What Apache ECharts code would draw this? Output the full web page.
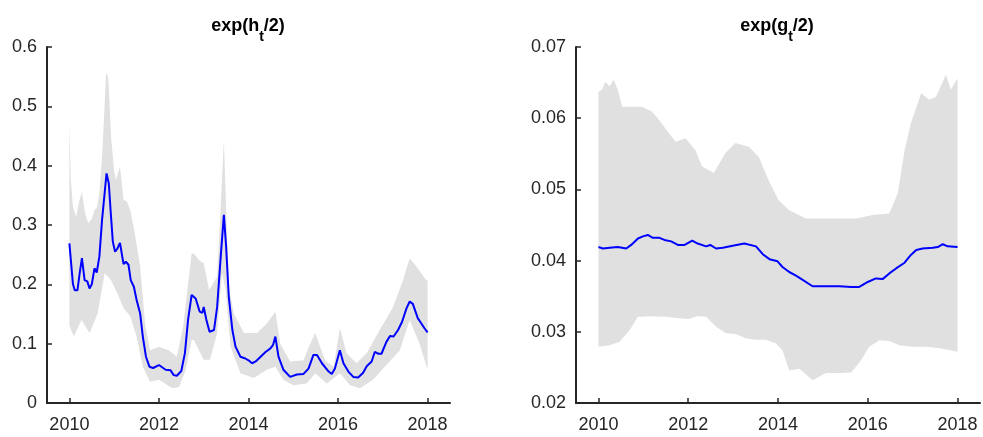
<!DOCTYPE html>
<html>
<head>
<meta charset="utf-8">
<script src="https://cdn.jsdelivr.net/npm/echarts@6/dist/echarts.min.js"></script>
<style>
html,body{margin:0;padding:0;background:#fff;}
#main{width:983px;height:437px;}
</style>
</head>
<body>
<div id="main"></div>
<script>
// x tick labels (both panels)
var yearTicks = [2010, 2012, 2014, 2016, 2018];

// left panel: exp(h_t/2) posterior mean
var hYears = [2010.0,2010.08,2010.12,2010.18,2010.23,2010.28,2010.34,2010.40,2010.45,2010.50,2010.56,2010.61,2010.67,2010.73,2010.79,2010.83,2010.88,2010.93,2010.97,
  2011.02,2011.07,2011.13,2011.18,2011.21,2011.26,2011.32,2011.37,2011.44,2011.50,2011.58,2011.64,2011.71,2011.79,2011.87,
  2012.00,2012.15,2012.26,2012.33,2012.40,2012.50,2012.58,2012.65,2012.73,2012.76,2012.82,2012.91,2012.97,
  2013.00,2013.06,2013.13,2013.23,2013.30,2013.38,2013.45,2013.50,2013.56,2013.64,2013.71,2013.82,2013.93,
  2014.00,2014.08,2014.16,2014.27,2014.38,2014.49,2014.55,2014.60,2014.67,2014.78,2014.93,
  2015.08,2015.23,2015.34,2015.45,2015.53,2015.64,2015.79,2015.86,2015.93,
  2016.04,2016.12,2016.23,2016.34,2016.45,2016.56,2016.64,2016.75,2016.82,2016.90,2016.97,
  2017.08,2017.16,2017.24,2017.34,2017.43,2017.53,2017.60,2017.67,2017.78,2017.86,2017.93,2018.0];
var hMean = [0.269,0.200,0.190,0.190,0.219,0.244,0.207,0.205,0.193,0.200,0.227,0.220,0.247,0.309,0.356,0.387,0.370,0.314,0.272,
  0.255,0.260,0.270,0.247,0.234,0.238,0.233,0.207,0.196,0.174,0.151,0.112,0.078,0.061,0.059,
  0.064,0.056,0.055,0.047,0.046,0.054,0.084,0.140,0.182,0.183,0.176,0.154,0.152,
  0.162,0.140,0.120,0.123,0.162,0.247,0.317,0.264,0.179,0.123,0.095,0.078,0.075,
  0.072,0.067,0.070,0.078,0.086,0.092,0.098,0.112,0.078,0.056,0.044,
  0.048,0.049,0.058,0.081,0.081,0.067,0.053,0.049,0.058,
  0.089,0.067,0.053,0.044,0.043,0.051,0.062,0.070,0.086,0.083,0.083,
  0.103,0.113,0.112,0.123,0.137,0.160,0.171,0.167,0.143,0.134,0.126,0.119];
// left panel band
var hUpYears = [2010.0,2010.03,2010.08,2010.15,2010.22,2010.28,2010.35,2010.42,2010.50,2010.56,2010.62,2010.67,2010.74,2010.82,2010.86,2010.88,2010.93,
  2011.00,2011.04,2011.13,2011.21,2011.28,2011.36,2011.46,2011.58,2011.69,2011.80,
  2012.00,2012.10,2012.22,2012.40,2012.54,2012.65,2012.73,2012.78,2012.90,
  2013.00,2013.12,2013.20,2013.30,2013.38,2013.45,2013.50,2013.56,2013.67,2013.90,
  2014.19,2014.41,2014.60,2014.71,2014.93,2015.23,2015.35,2015.49,2015.60,2015.71,2015.90,
  2016.04,2016.19,2016.41,2016.64,2016.93,2017.23,2017.45,2017.60,2017.75,2017.97,2018.0];
var hUp = [0.475,0.380,0.330,0.314,0.340,0.356,0.320,0.303,0.310,0.325,0.330,0.354,0.427,0.556,0.550,0.533,0.449,
  0.390,0.376,0.398,0.342,0.340,0.325,0.286,0.230,0.134,0.089,
  0.095,0.092,0.089,0.078,0.129,0.200,0.252,0.252,0.240,
  0.236,0.190,0.200,0.213,0.330,0.443,0.330,0.196,0.151,0.118,
  0.118,0.134,0.154,0.100,0.070,0.072,0.095,0.118,0.095,0.072,0.061,
  0.126,0.084,0.067,0.084,0.123,0.162,0.207,0.244,0.230,0.207,0.207];
var hLoYears = [2010.0,2010.10,2010.27,2010.45,2010.63,2010.79,2010.93,2011.07,2011.21,2011.36,2011.50,2011.64,2011.80,
  2012.00,2012.30,2012.45,2012.60,2012.73,2012.78,2013.00,2013.14,2013.30,2013.41,2013.49,2013.60,2013.82,
  2014.12,2014.41,2014.60,2014.78,2015.00,2015.30,2015.49,2015.75,2016.04,2016.27,2016.49,2016.78,
  2017.08,2017.38,2017.60,2017.82,2018.0];
var hLo = [0.130,0.112,0.140,0.118,0.151,0.219,0.207,0.185,0.160,0.146,0.112,0.061,0.036,
  0.039,0.025,0.027,0.056,0.106,0.106,0.073,0.073,0.118,0.220,0.190,0.095,0.050,
  0.042,0.056,0.061,0.039,0.030,0.033,0.050,0.033,0.050,0.030,0.025,0.039,
  0.064,0.089,0.140,0.100,0.056];

// right panel: exp(g_t/2) posterior mean
var gYears = [2010.0,2010.10,2010.25,2010.43,2010.62,2010.73,2010.88,2010.99,2011.10,2011.21,2011.36,2011.47,2011.62,2011.77,2011.92,
  2012.09,2012.21,2012.40,2012.49,2012.62,2012.77,2012.99,2013.25,2013.51,2013.66,2013.81,2013.99,
  2014.10,2014.25,2014.40,2014.55,2014.77,2015.07,2015.37,2015.63,2015.81,
  2016.00,2016.18,2016.33,2016.48,2016.63,2016.82,2016.96,2017.08,2017.22,2017.45,2017.56,2017.67,2017.78,2018.0];
var gMean = [0.0419,0.0417,0.0418,0.0419,0.0417,0.0422,0.0431,0.0434,0.0436,0.0432,0.0432,0.0429,0.0427,0.0422,0.0422,
  0.0428,0.0424,0.0420,0.0422,0.0417,0.0418,0.0421,0.0424,0.0420,0.0409,0.0402,0.0399,
  0.0391,0.0384,0.0379,0.0373,0.0364,0.0364,0.0364,0.0363,0.0363,
  0.0370,0.0375,0.0374,0.0382,0.0389,0.0397,0.0408,0.0415,0.0417,0.0418,0.0419,0.0423,0.0420,0.0419];
// right panel band
var gUpYears = [2010.0,2010.08,2010.15,2010.25,2010.34,2010.43,2010.53,2010.75,2010.97,2011.20,2011.38,2011.57,2011.72,2011.94,
  2012.16,2012.31,2012.57,2012.83,2013.05,2013.35,2013.57,2013.79,2014.01,2014.24,2014.62,
  2015.00,2015.37,2015.74,2016.11,2016.48,2016.67,2016.82,2016.96,2017.19,2017.37,2017.52,2017.74,2017.85,2018.0];
var gUp = [0.0637,0.0640,0.0651,0.0645,0.0654,0.0640,0.0616,0.0616,0.0616,0.0609,0.0595,0.0579,0.0567,0.0572,
  0.0555,0.0532,0.0523,0.0551,0.0565,0.0560,0.0546,0.0513,0.0485,0.0471,0.0459,
  0.0459,0.0459,0.0459,0.0464,0.0466,0.0495,0.0555,0.0593,0.0635,0.0626,0.0630,0.0661,0.0640,0.0656];
var gLoYears = [2010.0,2010.25,2010.47,2010.70,2010.88,2011.14,2011.50,2011.80,2012.00,2012.20,2012.40,2012.62,2012.84,
  2013.06,2013.28,2013.51,2013.73,2013.95,2014.10,2014.25,2014.48,2014.77,2015.07,2015.37,2015.63,2015.85,
  2016.03,2016.26,2016.48,2016.70,2017.00,2017.30,2017.60,2018.0];
var gLo = [0.0279,0.0281,0.0286,0.0303,0.0321,0.0322,0.0321,0.0319,0.0318,0.0322,0.0321,0.0307,0.0298,
  0.0297,0.0291,0.0289,0.0289,0.0284,0.0274,0.0246,0.0248,0.0232,0.0242,0.0242,0.0243,0.0260,
  0.0279,0.0288,0.0287,0.0281,0.0279,0.0279,0.0277,0.0272];

var FONT = 'Liberation Sans';
var INK = '#262626';

function pairs(xs, ys) {
    return xs.map(function (x, i) { return [x, ys[i]]; });
}

// polygon: upper edge forwards, lower edge backwards
function bandData(upX, up, loX, lo) {
    return pairs(upX, up).concat(pairs(loX, lo).reverse());
}

function renderBand(params, api) {
    if (params.dataIndex !== 0) return;
    var pts = [];
    var n = params.dataInsideLength;
    for (var i = 0; i < n; i++) {
        pts.push(api.coord([api.value(0, i), api.value(1, i)]));
    }
    return {
        type: 'polygon',
        shape: { points: pts },
        style: { fill: '#e0e0e0' }
    };
}

function xAxisOpt(gi) {
    return {
        type: 'value', gridIndex: gi, min: 2009.5, max: 2018.5,
        splitLine: { show: false },
        axisLine: { lineStyle: { color: INK, width: 2 } },
        axisTick: { inside: true, length: 5, customValues: yearTicks, lineStyle: { color: INK, width: 1.5 } },
        axisLabel: {
            customValues: yearTicks, margin: 13, color: INK, fontSize: 18, fontFamily: FONT,
            formatter: function (v) { return String(v); }
        }
    };
}

function yAxisOpt(gi, mn, mx, step, dec) {
    return {
        type: 'value', gridIndex: gi, min: mn, max: mx, interval: step,
        splitLine: { show: false },
        axisLine: { show: true, lineStyle: { color: INK, width: 2 } },
        axisTick: { show: true, inside: true, length: 5, lineStyle: { color: INK, width: 1.5 } },
        axisLabel: {
            margin: 10, color: INK, fontSize: 18, fontFamily: FONT,
            formatter: function (v) { return v === 0 ? '0' : v.toFixed(dec); }
        }
    };
}

function titleText(x, letter) {
    return {
        type: 'text', x: x, y: 17, z: 10,
        style: {
            text: '{a|exp(' + letter + '}{s|t}{a|/2)}',
            align: 'center', verticalAlign: 'top',
            rich: {
                a: { fontSize: 18, fontWeight: 'bold', fontFamily: FONT, fill: '#000', lineHeight: 27, verticalAlign: 'top' },
                s: { fontSize: 14, fontWeight: 'bold', fontFamily: FONT, fill: '#000', lineHeight: 14, verticalAlign: 'bottom' }
            }
        }
    };
}

var chart = echarts.init(document.getElementById('main'));
chart.setOption({
    backgroundColor: '#fff',
    animation: false,
    grid: [
        { left: 47, top: 47, width: 403, height: 356 },
        { left: 576, top: 47, width: 404, height: 356 }
    ],
    xAxis: [xAxisOpt(0), xAxisOpt(1)],
    yAxis: [yAxisOpt(0, 0, 0.6, 0.1, 1), yAxisOpt(1, 0.02, 0.07, 0.01, 2)],
    graphic: [titleText(248, 'h'), titleText(777, 'g')],
    series: [
        {
            type: 'custom', xAxisIndex: 0, yAxisIndex: 0, clip: true,
            renderItem: renderBand, data: bandData(hUpYears, hUp, hLoYears, hLo), z: 1
        },
        {
            type: 'line', xAxisIndex: 0, yAxisIndex: 0, showSymbol: false, z: 3,
            lineStyle: { color: '#0000ff', width: 2 }, data: pairs(hYears, hMean)
        },
        {
            type: 'custom', xAxisIndex: 1, yAxisIndex: 1, clip: true,
            renderItem: renderBand, data: bandData(gUpYears, gUp, gLoYears, gLo), z: 1
        },
        {
            type: 'line', xAxisIndex: 1, yAxisIndex: 1, showSymbol: false, z: 3,
            lineStyle: { color: '#0000ff', width: 2 }, data: pairs(gYears, gMean)
        }
    ]
});
</script>
</body>
</html>
